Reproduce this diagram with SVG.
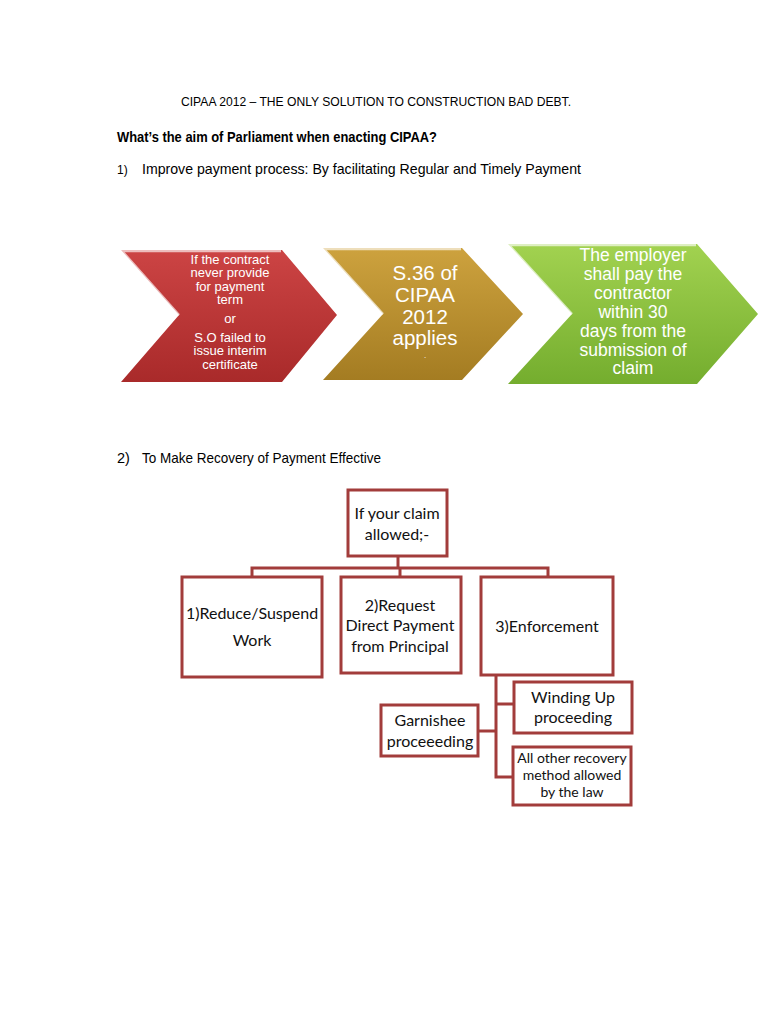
<svg xmlns="http://www.w3.org/2000/svg" width="768" height="1024" viewBox="0 0 768 1024">
<style>
.bg{fill:#ffffff}
.hdr{font-family:"Liberation Sans",Arial,sans-serif;fill:#000}
.chev{font-family:"Liberation Sans",Arial,sans-serif;fill:#ffffff;text-anchor:middle}
.box{fill:#ffffff;stroke:#a23c3b;stroke-width:3}
.bt{font-family:Lato,"Open Sans",sans-serif;fill:#111;text-anchor:middle;font-size:16px}
.con{fill:none;stroke:#a23c3b;stroke-width:3}
.hl{fill:none;stroke:#ffffff;stroke-opacity:0.65;stroke-width:2.5}
</style>
<defs>
<linearGradient id="gr" x1="0" y1="0" x2="0" y2="1"><stop offset="0" stop-color="#cc4444"/><stop offset="1" stop-color="#a92a2a"/></linearGradient>
<linearGradient id="gg" x1="0" y1="0" x2="0" y2="1"><stop offset="0" stop-color="#cda23e"/><stop offset="1" stop-color="#a47c22"/></linearGradient>
<linearGradient id="gn" x1="0" y1="0" x2="0" y2="1"><stop offset="0" stop-color="#a2d250"/><stop offset="1" stop-color="#74ad2e"/></linearGradient>
</defs>
<rect class="bg" x="0" y="0" width="768" height="1024"/>

<text class="hdr" x="376" y="106" font-size="12" text-anchor="middle" textLength="390" lengthAdjust="spacingAndGlyphs">CIPAA 2012 – THE ONLY SOLUTION TO CONSTRUCTION BAD DEBT.</text>
<text class="hdr" x="117" y="142" font-size="15" font-weight="bold" textLength="320" lengthAdjust="spacingAndGlyphs">What’s the aim of Parliament when enacting CIPAA?</text>
<text class="hdr" x="117" y="174" font-size="12">1)</text>
<text class="hdr" x="142" y="174" font-size="15" textLength="439" lengthAdjust="spacingAndGlyphs">Improve payment process: By facilitating Regular and Timely Payment</text>

<g id="chev1">
<polygon points="121,250 282,250 337,315 282,382 121,382 179,315" fill="url(#gr)"/>
<polyline class="hl" points="179,315 122,251 281,251"/>
<text class="chev" font-size="13"><tspan x="230" y="264">If the contract</tspan><tspan x="230" y="277">never provide</tspan><tspan x="230" y="291">for payment</tspan><tspan x="230" y="304">term</tspan><tspan x="230" y="323">or</tspan><tspan x="230" y="342">S.O failed to</tspan><tspan x="230" y="355">issue interim</tspan><tspan x="230" y="369">certificate</tspan></text>
</g>
<g id="chev2">
<polygon points="323,248 462,248 523,314 462,380 323,380 383,314" fill="url(#gg)"/>
<polyline class="hl" points="383,314 324,249 461,249"/>
<text class="chev" font-size="20.5"><tspan x="425" y="280">S.36 of</tspan><tspan x="425" y="302">CIPAA</tspan><tspan x="425" y="324">2012</tspan><tspan x="425" y="345">applies</tspan></text>
<text class="chev" font-size="8" x="425" y="358">.</text>
</g>
<g id="chev3">
<polygon points="508,244 697,244 758,314 697,384 508,384 572,314" fill="url(#gn)"/>
<polyline class="hl" points="572,314 509,245 696,245"/>
<text class="chev" font-size="17.5"><tspan x="633" y="261">The employer</tspan><tspan x="633" y="280">shall pay the</tspan><tspan x="633" y="299">contractor</tspan><tspan x="633" y="318">within 30</tspan><tspan x="633" y="337">days from the</tspan><tspan x="633" y="356">submission of</tspan><tspan x="633" y="374">claim</tspan></text>
</g>

<text class="hdr" x="117" y="463" font-size="14.5">2)</text>
<text class="hdr" x="142" y="463" font-size="15" textLength="239" lengthAdjust="spacingAndGlyphs">To Make Recovery of Payment Effective</text>

<g id="connectors">
<polyline class="con" points="398,556 398,568"/>
<polyline class="con" points="252,577 252,568 548,568 548,577"/>
<polyline class="con" points="400,568 400,577"/>
<polyline class="con" points="496,675 496,777 513,777"/>
<polyline class="con" points="496,704 514,704"/>
<polyline class="con" points="478,731 496,731"/>
</g>

<g id="root">
<rect class="box" x="348" y="490" width="99" height="66"/>
<text class="bt"><tspan x="397" y="519">If your claim</tspan><tspan x="397" y="540">allowed;-</tspan></text>
</g>
<g id="n1">
<rect class="box" x="182" y="577" width="140" height="100"/>
<text class="bt"><tspan x="252" y="619">1)Reduce/Suspend</tspan><tspan x="252" y="646">Work</tspan></text>
</g>
<g id="n2">
<rect class="box" x="341" y="577" width="120" height="96"/>
<text class="bt"><tspan x="400" y="611">2)Request</tspan><tspan x="400" y="631">Direct Payment</tspan><tspan x="400" y="652">from Principal</tspan></text>
</g>
<g id="n3">
<rect class="box" x="481" y="577" width="132" height="98"/>
<text class="bt"><tspan x="547" y="632">3)Enforcement</tspan></text>
</g>
<g id="n4">
<rect class="box" x="514" y="682" width="118" height="51"/>
<text class="bt"><tspan x="573" y="703">Winding Up</tspan><tspan x="573" y="723">proceeding</tspan></text>
</g>
<g id="n5">
<rect class="box" x="381" y="705" width="97" height="51"/>
<text class="bt"><tspan x="430" y="726">Garnishee</tspan><tspan x="430" y="747">proceeeding</tspan></text>
</g>
<g id="n6">
<rect class="box" x="513" y="747" width="118" height="58"/>
<text class="bt" style="font-size:14px"><tspan x="572" y="763">All other recovery</tspan><tspan x="572" y="780">method allowed</tspan><tspan x="572" y="797">by the law</tspan></text>
</g>
</svg>
